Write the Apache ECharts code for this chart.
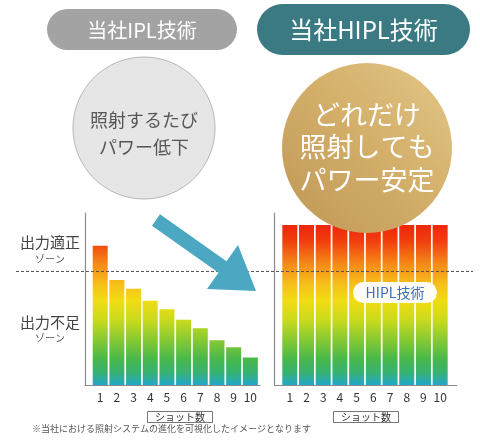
<!DOCTYPE html>
<html>
<head>
<meta charset="utf-8">
<script src="https://cdn.jsdelivr.net/npm/echarts@6/dist/echarts.min.js"></script>
<style>
  html, body { margin: 0; padding: 0; background: #fff; }
  #chart { width: 480px; height: 446px; }
</style>
</head>
<body>
<div id="chart"></div>
<script>
// shot numbers
var shots = [1, 2, 3, 4, 5, 6, 7, 8, 9, 10]
// output level (0-100) of the current IPL, drops each shot
var iplPower = [81, 61, 56, 49, 44, 38, 33, 26, 22, 16]
// HIPL keeps the same output
var hiplPower = [93, 93, 93, 93, 93, 93, 93, 93, 93, 93]
// border between "適正" and "不足" zones
var threshold = 66
var yMax = 100

var FONT = '"Noto Sans CJK JP", "Noto Sans", sans-serif'
var gridTop = 213, gridH = 172

var chart = echarts.init(document.getElementById('chart'))

function toPairs(vals) {
  return shots.map(function (s, i) { return [s, vals[i]] })
}

// same gradient for every bar, fixed in page coordinates
var barTop = gridTop + gridH * (1 - hiplPower[0] / yMax)
var barGrad = new echarts.graphic.LinearGradient(0, barTop, 0, gridTop + gridH, [
  { offset: 0, color: '#ef260b' },
  { offset: 0.1, color: '#f23d0f' },
  { offset: 0.24, color: '#f58818' },
  { offset: 0.37, color: '#f6bf1a' },
  { offset: 0.47, color: '#f2dc12' },
  { offset: 0.59, color: '#cbdb1b' },
  { offset: 0.72, color: '#86c933' },
  { offset: 0.84, color: '#47b84b' },
  { offset: 0.92, color: '#38b270' },
  { offset: 1, color: '#22a7ca' }
], true)

function xAxisOf(gridIndex, min, max) {
  return {
    type: 'value',
    gridIndex: gridIndex,
    min: min,
    max: max,
    axisLine: { lineStyle: { color: '#8a8a8a', width: 1.2 } },
    axisTick: { show: false },
    splitLine: { show: false },
    axisLabel: {
      customValues: shots,
      color: '#333',
      fontSize: 12,
      fontFamily: FONT,
      margin: 6
    }
  }
}

function yAxisOf(gridIndex) {
  return {
    type: 'value',
    gridIndex: gridIndex,
    min: 0,
    max: yMax,
    axisLine: { show: true, lineStyle: { color: '#8a8a8a', width: 1.2 } },
    axisTick: { show: false },
    axisLabel: { show: false },
    splitLine: { show: false }
  }
}

function shotBox(left) {
  return {
    text: 'ショット数',
    left: left,
    top: 411,
    padding: [1, 8, 1, 8],
    borderColor: '#777',
    borderWidth: 1,
    textStyle: { fontSize: 10, fontWeight: 'normal', color: '#333', fontFamily: FONT }
  }
}

chart.setOption({
  animation: false,
  backgroundColor: '#fff',
  title: [shotBox(147), shotBox(333)],
  grid: [
    { left: 85, top: gridTop, width: 175, height: gridH },
    { left: 274.7, top: gridTop, width: 182, height: gridH }
  ],
  xAxis: [xAxisOf(0, 0.089, 10.58), xAxisOf(1, 0.096, 10.99)],
  yAxis: [yAxisOf(0), yAxisOf(1)],
  series: [
    {
      type: 'bar',
      xAxisIndex: 0,
      yAxisIndex: 0,
      barWidth: 15,
      itemStyle: { color: barGrad },
      data: toPairs(iplPower)
    },
    {
      type: 'bar',
      xAxisIndex: 1,
      yAxisIndex: 1,
      barWidth: 15,
      itemStyle: { color: barGrad },
      data: toPairs(hiplPower)
    }
  ]
})

var lineY = chart.convertToPixel({ gridIndex: 0 }, [1, threshold])[1]

function txt(x, y, text, size, color, extra) {
  var style = {
    x: x, y: y, text: text, fill: color,
    font: (extra && extra.weight ? extra.weight + ' ' : '') + size + 'px ' + FONT,
    align: 'center', verticalAlign: 'middle'
  }
  if (extra && extra.align) style.align = extra.align
  return { type: 'text', z: 120, style: style }
}

chart.setOption({
  graphic: [
    // header pills
    { type: 'rect', z: 100, shape: { x: 47, y: 9, width: 190, height: 41, r: 20.5 }, style: { fill: '#a3a3a3' } },
    txt(142, 30, '当社IPL技術', 20, '#fff'),
    { type: 'rect', z: 100, shape: { x: 257, y: 4, width: 213, height: 51, r: 25.5 }, style: { fill: '#3b7a82' } },
    txt(363.5, 30, '当社HIPL技術', 24, '#fff'),
    // left circle
    { type: 'circle', z: 100, shape: { cx: 144, cy: 128, r: 71 }, style: { fill: '#e6e6e6', stroke: '#b8b8b8', lineWidth: 1 } },
    txt(144, 120, '照射するたび', 18, '#555'),
    txt(144, 147, 'パワー低下', 18, '#555'),
    // right gold circle
    {
      type: 'circle', z: 100, shape: { cx: 367, cy: 148, r: 85 },
      style: {
        fill: new echarts.graphic.LinearGradient(1, 0, 0, 1, [
          { offset: 0, color: '#e2c788' },
          { offset: 0.45, color: '#d4b06b' },
          { offset: 1, color: '#bf9755' }
        ])
      }
    },
    txt(367, 115, 'どれだけ', 27, '#fff'),
    txt(367, 147, '照射しても', 27, '#fff'),
    txt(367, 180, 'パワー安定', 27, '#fff'),
    // zone labels
    txt(50, 242, '出力適正', 15, '#444'),
    txt(50, 259, 'ゾーン', 10, '#555'),
    txt(50, 322, '出力不足', 15, '#444'),
    txt(50, 338, 'ゾーン', 10, '#555'),
    // threshold line
    {
      type: 'line', z: 90,
      shape: { x1: 16, y1: lineY, x2: 473, y2: lineY },
      style: { stroke: '#555', lineWidth: 1, lineDash: [3, 2] }
    },
    // arrow
    {
      type: 'polygon', z: 100,
      shape: {
        points: [[152, 225.7], [160, 214.3], [226.5, 261.3], [238, 245], [256, 291], [207, 289], [218.5, 272.7]]
      },
      style: { fill: '#4ca8c2' }
    },
    // HIPL tag
    { type: 'rect', z: 110, shape: { x: 353, y: 282, width: 84, height: 21, r: 10.5 }, style: { fill: 'rgba(255,255,255,0.95)' } },
    txt(395, 292.5, 'HIPL技術', 14, '#3a6fc2'),
    // footnote
    txt(32, 429, '※当社における照射システムの進化を可視化したイメージとなります', 9, '#555', { align: 'left' })
  ]
})
</script>
</body>
</html>
